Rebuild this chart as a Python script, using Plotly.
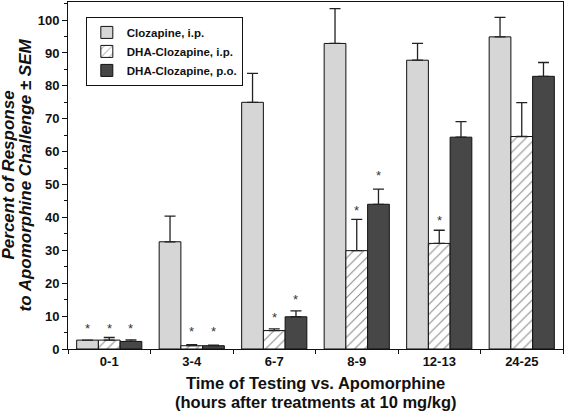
import plotly.graph_objects as go

categories = ["0-1", "3-4", "6-7", "8-9", "12-13", "24-25"]
series_names = ["Clozapine, i.p.", "DHA-Clozapine, i.p.", "DHA-Clozapine, p.o."]

cloz_ip = [2.7, 32.6, 75.0, 92.9, 87.8, 94.9]
cloz_ip_sem = [0.0, 7.8, 8.8, 10.6, 5.1, 5.9]

dha_ip = [2.7, 1.0, 5.6, 29.9, 32.1, 64.6]
dha_ip_sem = [0.8, 0.3, 0.5, 9.5, 4.0, 10.3]

dha_po = [2.3, 1.0, 9.8, 44.0, 64.4, 82.9]
dha_po_sem = [0.5, 0.2, 1.8, 4.6, 4.7, 4.2]

# significance markers: (category index, series index, y of asterisk)
star_cat = [0, 0, 0, 1, 1, 2, 2, 3, 3, 4]
star_ser = [0, 1, 2, 1, 2, 1, 2, 1, 2, 1]
star_y = [6.3, 6.3, 6.3, 5.2, 5.2, 9.5, 15.2, 42.2, 52.6, 39.0]

x_title = ["Time of Testing vs. Apomorphine", "(hours after treatments at 10 mg/kg)"]
y_title = ["Percent of Response", "to Apomorphine Challenge ± SEM"]

colors = ["#d6d6d6", "#ffffff", "#474747"]
FONT = "Liberation Sans, Arial, sans-serif"
BARGAP = 0.21

fig = go.Figure()
vals = [cloz_ip, dha_ip, dha_po]
sems = [cloz_ip_sem, dha_ip_sem, dha_po_sem]
for k in range(3):
    marker = dict(color=colors[k], line=dict(color="#111111", width=1))
    if k == 1:
        marker["pattern"] = dict(shape="/", fgcolor="#111111", bgcolor="#ffffff",
                                 size=7, solidity=0.15)
    fig.add_trace(go.Bar(
        x=categories, y=vals[k], name=series_names[k], marker=marker,
        error_y=dict(type="data", symmetric=False, array=sems[k],
                     arrayminus=[0] * len(categories), color="#222222",
                     thickness=1.3, width=5.5),
    ))

bw = (1 - BARGAP) / 3
for c, s, yv in zip(star_cat, star_ser, star_y):
    fig.add_annotation(x=c + (s - 1) * bw, y=yv, xref="x", yref="y",
                       text="*", showarrow=False,
                       font=dict(family=FONT, size=13, color="#333333"))

# axis titles (two tightly spaced lines each)
for t, ys in zip(x_title, [-34, -53]):
    fig.add_annotation(x=0.5, y=0, xref="paper", yref="paper", text=t,
                       showarrow=False, xanchor="center", yanchor="middle",
                       yshift=ys,
                       font=dict(family=FONT, size=16.5, weight="bold", color="#111111"))
for t, xs in zip(y_title, [-60, -43]):
    fig.add_annotation(x=0, y=0.5, xref="paper", yref="paper", text=t,
                       showarrow=False, xanchor="center", yanchor="middle",
                       xshift=xs, textangle=-90,
                       font=dict(family=FONT, size=17, weight="bold",
                                 style="italic", color="#111111"))

fig.update_layout(
    width=566, height=412,
    margin=dict(l=68, r=3, t=2, b=63),
    paper_bgcolor="white", plot_bgcolor="white",
    barmode="group", bargap=BARGAP, bargroupgap=0,
    font=dict(family=FONT, color="#111111"),
    showlegend=True,
    legend=dict(x=0.036, y=0.957, xanchor="left", yanchor="top",
                bordercolor="#111111", borderwidth=1, bgcolor="white",
                font=dict(family=FONT, size=11.5, color="#111111", weight="bold"),
                tracegroupgap=0, itemwidth=30),
)
fig.update_xaxes(
    type="category", range=[-0.5, 5.5],
    tickson="boundaries", ticks="outside", ticklen=4, tickcolor="#111111",
    showline=True, linecolor="#111111", linewidth=1, mirror=True,
    showgrid=False,
    tickfont=dict(family=FONT, size=13, weight="bold"),
)
fig.update_yaxes(
    range=[0, 105.5], tickvals=list(range(0, 101, 10)),
    ticks="outside", ticklen=5, tickcolor="#111111",
    minor=dict(dtick=5, ticks="outside", ticklen=3, tickcolor="#111111"),
    showline=True, linecolor="#111111", linewidth=1, mirror=True,
    showgrid=False, zeroline=False,
    tickfont=dict(family=FONT, size=13, weight="bold"),
)

fig.write_html("out.html", config={"displayModeBar": False},
               post_script="document.body.style.margin='0';")
